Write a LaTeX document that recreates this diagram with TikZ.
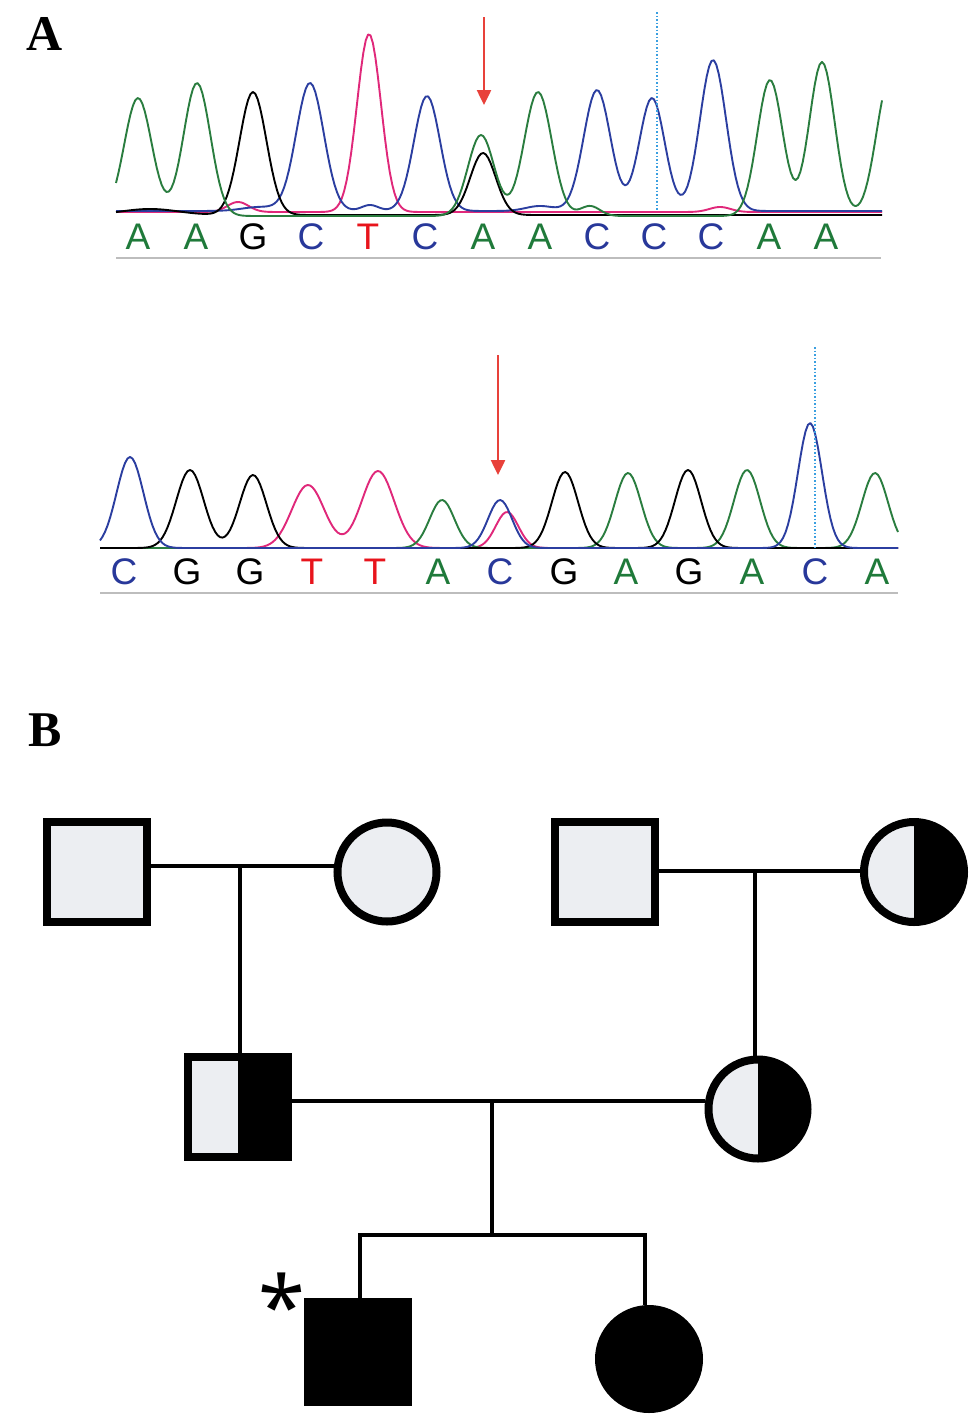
\documentclass[tikz,border=0pt]{standalone}
\usepackage{fontspec}
\setmainfont{Liberation Serif}
\newfontfamily\seqfont{Liberation Sans}
\newfontfamily\starfont{Noto Sans}
\usetikzlibrary{arrows.meta}
\definecolor{seqgreen}{HTML}{1F7A3A}
\definecolor{trgreen}{HTML}{2A7D3F}
\definecolor{seqblue}{HTML}{28389A}
\definecolor{trblue}{HTML}{2B3EA0}
\definecolor{trpink}{HTML}{E0287A}
\definecolor{seqred}{HTML}{E8141C}
\definecolor{arrowred}{HTML}{E8413A}
\definecolor{dotcyan}{HTML}{3A9FE0}
\definecolor{baseg}{HTML}{BDBDBD}
\definecolor{lightfill}{HTML}{ECEEF2}
\tikzset{
  declare function={g(\gx,\gm,\ga,\gs)=\ga*exp(-((\gx-\gm)/\gs)*((\gx-\gm)/\gs));},
  trace/.style={line width=1.9pt, line join=round},
  seqletter/.style={inner sep=0pt, font=\seqfont\fontsize{37}{37}\selectfont},
  panel/.style={inner sep=0pt, font=\bfseries\fontsize{50}{50}\selectfont},
  baseline line/.style={draw=baseg, line width=1.5pt},
  cursor/.style={draw=dotcyan, line width=1.5pt, dotted},
  mutarrow/.style={draw=arrowred, line width=2.5pt, -{Triangle[width=14pt,length=15pt]}},
  male/.style={rectangle, draw=black, line width=8pt, minimum size=100pt, inner sep=0pt, fill=lightfill},
  female/.style={circle, draw=black, line width=8pt, minimum size=99pt, inner sep=0pt, fill=lightfill},
  carrier/.style={path picture={\fill[black] (path picture bounding box.north) rectangle (path picture bounding box.south east);}},
  affected/.style={fill=black},
  link/.style={draw=black, line width=4pt},
}
\begin{document}
\begin{tikzpicture}[x=1pt,y=-1pt]
\useasboundingbox (0,0) rectangle (980,1425);
\fill[white] (0,0) rectangle (980,1425);

% Panel labels
\node[panel] (lblA) at (45,34) {A};
\node[panel] (lblB) at (45,730) {B};

% ---------- Chromatogram 1 ----------
\draw[trace, trpink] plot[domain=116:882, samples=320]
  (\x, {212 - g(\x,369,178,17) - g(\x,238,10,15) - g(\x,720,5,15)});
\draw[trace, trblue] plot[domain=116:882, samples=320]
  (\x, {211 - g(\x,310,128,19.5) - g(\x,427,115,18.5) - g(\x,597,121,19) - g(\x,652,113,18) - g(\x,713,151,18.5) - g(\x,370,6,12) - g(\x,540,5,20) - g(\x,260,4,25)});
\draw[trace, black] plot[domain=116:882, samples=320]
  (\x, {215 - g(\x,253,123,19) - g(\x,483,62,18) - g(\x,150,6,40)});
\draw[trace, trgreen] plot[domain=116:882, samples=320]
  (\x, {216 - g(\x,138,118,19.5) - g(\x,197,133,19) - g(\x,481,81,18.5) - g(\x,538,124,19.5) - g(\x,590,10,14) - g(\x,770,136,18) - g(\x,822,154,18) - g(\x,890,138,19)});

\coordinate (cur1t) at (657,12);
\coordinate (cur1b) at (657,210);
\draw[cursor] (cur1t) -- (cur1b);
\coordinate (arr1s) at (484,17);
\coordinate (arr1e) at (484,105);
\draw[mutarrow] (arr1s) -- (arr1e);

\foreach \n/\px/\ch/\col in {1/138/A/seqgreen, 2/196/A/seqgreen, 3/253/G/black, 4/311/C/seqblue, 5/368/T/seqred, 6/425/C/seqblue, 7/483/A/seqgreen, 8/540/A/seqgreen, 9/597/C/seqblue, 10/654/C/seqblue, 11/711/C/seqblue, 12/769/A/seqgreen, 13/826/A/seqgreen}
  \node[seqletter, text=\col] (s1-\n) at (\px,237) {\ch};

\coordinate (base1l) at (116,258);
\coordinate (base1r) at (881,258);
\draw[baseline line] (base1l) -- (base1r);

% ---------- Chromatogram 2 ----------
\draw[trace, trpink] plot[domain=100:898, samples=320]
  (\x, {548 - g(\x,308,63,23) - g(\x,378,77,23) - g(\x,507,36,16)});
\draw[trace, trgreen] plot[domain=100:898, samples=320]
  (\x, {548 - g(\x,442,48,17.5) - g(\x,628,75,18.5) - g(\x,747,78,18.5) - g(\x,875,75,18.5)});
\draw[trace, black] plot[domain=100:898, samples=320]
  (\x, {548 - g(\x,190,78,19.5) - g(\x,253,73,19) - g(\x,565,76,18.5) - g(\x,688,78,18.5)});
\draw[trace, trblue] plot[domain=100:898, samples=320]
  (\x, {548 - g(\x,130,91,19) - g(\x,500,48,17) - g(\x,810,125,17)});

\coordinate (cur2t) at (815,347);
\coordinate (cur2b) at (815,548);
\draw[cursor] (cur2t) -- (cur2b);
\coordinate (arr2s) at (498,355);
\coordinate (arr2e) at (498,475);
\draw[mutarrow] (arr2s) -- (arr2e);

\foreach \n/\px/\ch/\col in {1/124/C/seqblue, 2/187/G/black, 3/250/G/black, 4/312/T/seqred, 5/375/T/seqred, 6/438/A/seqgreen, 7/500/C/seqblue, 8/564/G/black, 9/626/A/seqgreen, 10/689/G/black, 11/752/A/seqgreen, 12/815/C/seqblue, 13/877/A/seqgreen}
  \node[seqletter, text=\col] (s2-\n) at (\px,572) {\ch};

\coordinate (base2l) at (100,593);
\coordinate (base2r) at (898,593);
\draw[baseline line] (base2l) -- (base2r);

% ---------- Pedigree ----------
\node[male] (I1) at (97,872) {};
\node[female] (I2) at (387,872) {};
\node[male] (I3) at (605,872) {};
\node[female, carrier, minimum size=100pt] (I4) at (914,872) {};
\node[male, carrier] (II1) at (238,1107) {};
\node[female, carrier] (II2) at (758,1109) {};
\node[male, affected] (III1) at (358,1352) {};
\node[female, affected, minimum size=100pt] (III2) at (649,1359) {};
\node[inner sep=0pt, font=\starfont\fontsize{85}{85}\selectfont] (proband) at (282,1305) {*};

\coordinate (m1) at (240,866);
\coordinate (m2) at (755,871);
\coordinate (m3) at (492,1101);
\coordinate (sib) at (492,1235);
\coordinate (sibL) at (360,1235);
\coordinate (sibR) at (645,1235);

\draw[link] (I1.east |- m1) -- (I2.west |- m1);
\draw[link] (m1) -- (m1 |- II1.north);
\draw[link] (I3.east |- m2) -- (I4.west |- m2);
\draw[link] (m2) -- (m2 |- II2.north);
\draw[link] (II1.east |- m3) -- (II2.west |- m3);
\draw[link] (m3) -- (sib);
\draw[link, line cap=rect] (sibL) -- (sibR);
\draw[link] (sibL) -- (sibL |- III1.north);
\draw[link] (sibR) -- (sibR |- III2.north);
\end{tikzpicture}
\end{document}
